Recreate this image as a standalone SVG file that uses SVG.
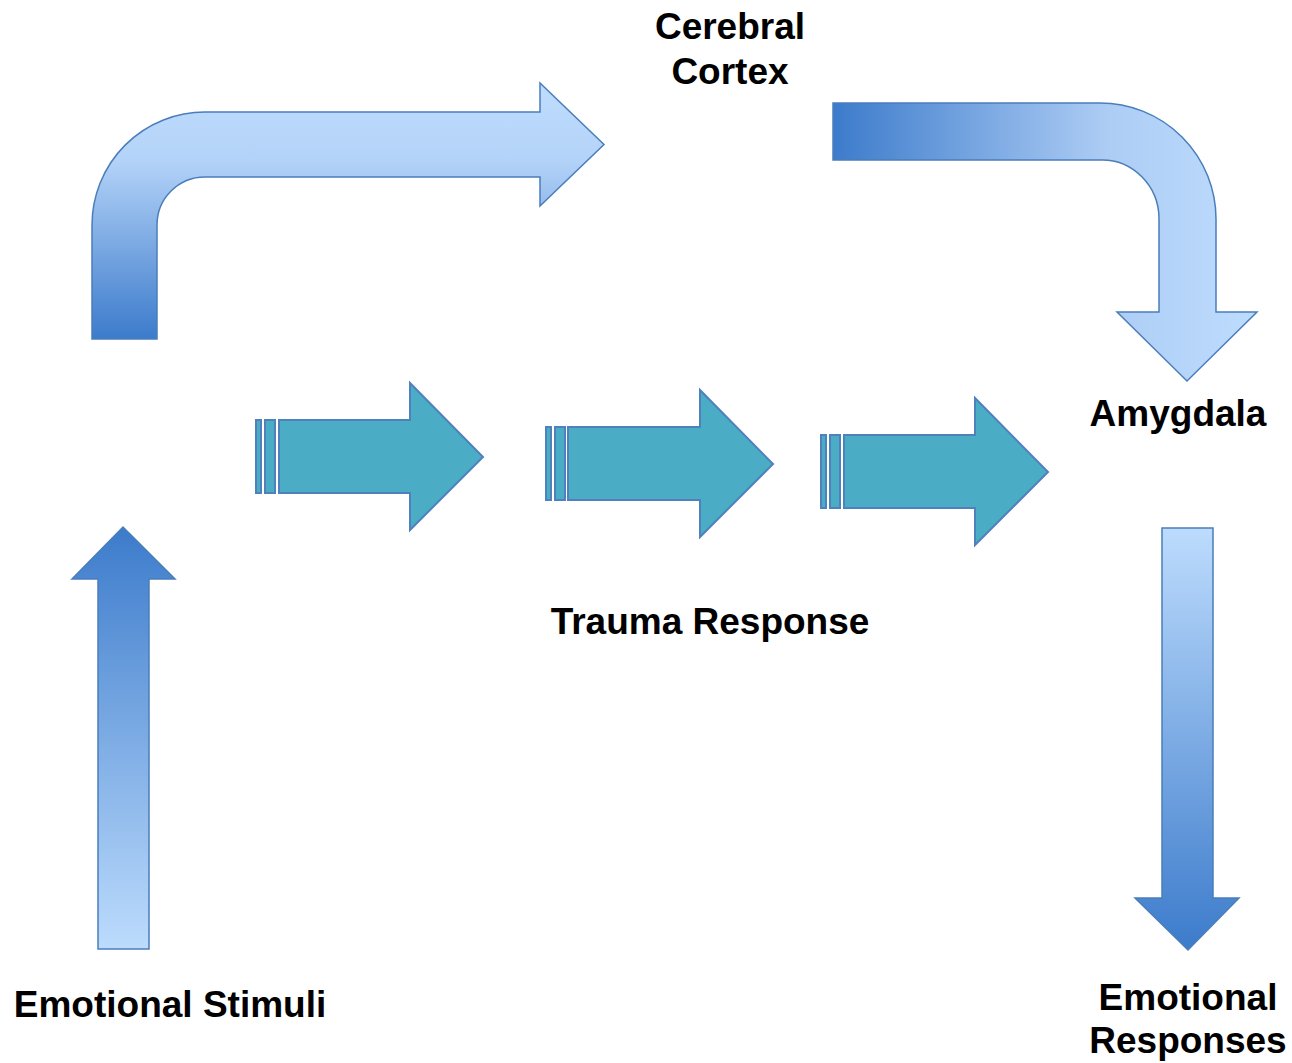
<svg xmlns="http://www.w3.org/2000/svg" width="1292" height="1063" viewBox="0 0 1292 1063">
  <style>
    .lbl { font-family: "Liberation Sans", Arial, sans-serif; font-weight: bold; font-size: 37px; fill: #000000; text-anchor: middle; }
    .blue { stroke: #4A7EBB; stroke-width: 1.5; stroke-linejoin: miter; }
    .teal { fill: #4BACC6; stroke: #4F81BD; stroke-width: 2; stroke-linejoin: miter; }
  </style>
  <defs>
    <linearGradient id="gUpRight" x1="0" y1="83" x2="0" y2="339" gradientUnits="userSpaceOnUse">
      <stop offset="0" stop-color="#BDDCFD"/>
      <stop offset="0.3" stop-color="#B4D3F8"/>
      <stop offset="1" stop-color="#3C7BCB"/>
    </linearGradient>
    <linearGradient id="gRightDown" x1="833" y1="0" x2="1257" y2="0" gradientUnits="userSpaceOnUse">
      <stop offset="0" stop-color="#3C7BCB"/>
      <stop offset="0.65" stop-color="#AECDF5"/>
      <stop offset="1" stop-color="#BDDCFD"/>
    </linearGradient>
    <linearGradient id="gUp" x1="0" y1="527" x2="0" y2="950" gradientUnits="userSpaceOnUse">
      <stop offset="0" stop-color="#3C7BCB"/>
      <stop offset="1" stop-color="#BDDCFD"/>
    </linearGradient>
    <linearGradient id="gDown" x1="0" y1="528" x2="0" y2="950" gradientUnits="userSpaceOnUse">
      <stop offset="0" stop-color="#BDDCFD"/>
      <stop offset="1" stop-color="#3C7BCB"/>
    </linearGradient>
  </defs>

  <g id="connectors">
    <path id="arrow-stimuli-cortex" class="blue" fill="url(#gUpRight)" d="M92,339 L92,225 A113,113 0 0 1 205,112 L540,112 L540,83 L604,144.5 L540,206 L540,177 L205,177 A48,48 0 0 0 157,225 L157,339 Z"/>
    <path id="arrow-cortex-amygdala" class="blue" fill="url(#gRightDown)" d="M833,103 L1100,103 A116,116 0 0 1 1216,219 L1216,312 L1257,312 L1187,381 L1117,312 L1159,312 L1159,219 A57,59 0 0 0 1100,160 L833,160 Z"/>
    <path id="arrow-stimuli-up" class="blue" fill="url(#gUp)" d="M98,949 L98,579 L72,579 L123,527 L175,579 L149,579 L149,949 Z"/>
    <path id="arrow-amygdala-responses" class="blue" fill="url(#gDown)" d="M1162,528 L1213,528 L1213,898 L1239,898 L1188,950 L1135,898 L1162,898 Z"/>

    <g id="trauma-arrow-1">
      <rect class="teal" x="256" y="420" width="5" height="73"/>
      <rect class="teal" x="265" y="420" width="10" height="73"/>
      <path class="teal" d="M279,420 L410,420 L410,383 L483,457 L410,530 L410,493 L279,493 Z"/>
    </g>
    <g id="trauma-arrow-2">
      <rect class="teal" x="546" y="427" width="5" height="73"/>
      <rect class="teal" x="555" y="427" width="10" height="73"/>
      <path class="teal" d="M568,427 L700,427 L700,390 L773,464 L700,537 L700,500 L568,500 Z"/>
    </g>
    <g id="trauma-arrow-3">
      <rect class="teal" x="821" y="435" width="5" height="73"/>
      <rect class="teal" x="830" y="435" width="10" height="73"/>
      <path class="teal" d="M844,435 L975,435 L975,398 L1048,472 L975,545 L975,508 L844,508 Z"/>
    </g>
  </g>

  <g id="node-cerebral-cortex">
    <text class="lbl" x="730" y="39">Cerebral</text>
    <text class="lbl" x="730" y="84">Cortex</text>
  </g>
  <g id="node-amygdala">
    <text class="lbl" x="1178" y="426">Amygdala</text>
  </g>
  <g id="node-trauma-response">
    <text class="lbl" x="710" y="634">Trauma Response</text>
  </g>
  <g id="node-emotional-stimuli">
    <text class="lbl" x="170" y="1017">Emotional Stimuli</text>
  </g>
  <g id="node-emotional-responses">
    <text class="lbl" x="1188" y="1010">Emotional</text>
    <text class="lbl" x="1188" y="1053">Responses</text>
  </g>
</svg>
